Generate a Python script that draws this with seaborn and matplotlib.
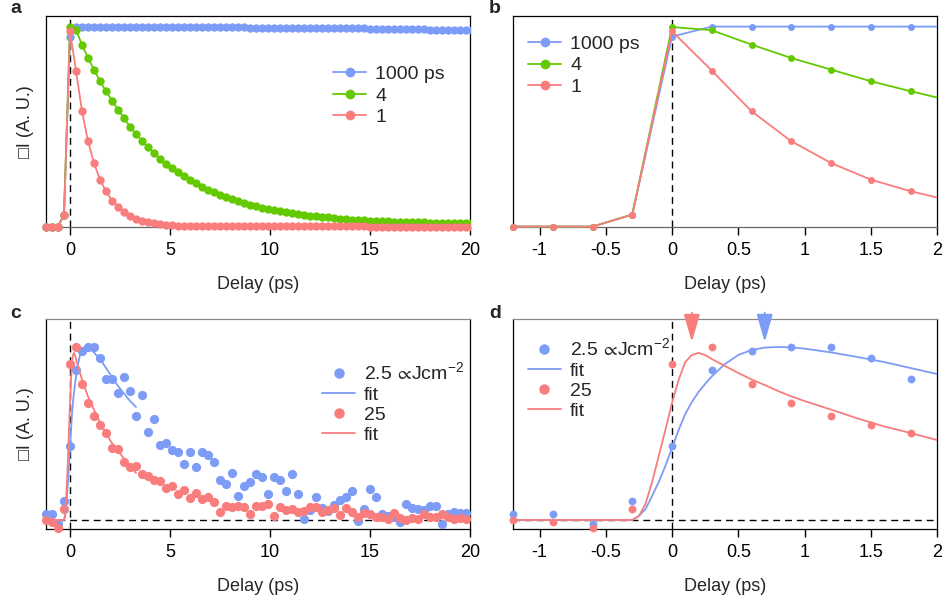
import matplotlib
matplotlib.use("Agg")
import matplotlib.pyplot as plt
from matplotlib.lines import Line2D
from matplotlib.patches import Rectangle
import seaborn as sns

# ---------------------------------------------------------------- data
# pump-probe delay grid (ps) for panels a/b
delay_ab = [-1.2, -0.9, -0.6, -0.3, 0.0, 0.3, 0.6, 0.9, 1.2, 1.5, 1.8, 2.1, 2.4, 2.7,
            3.0, 3.3, 3.6, 3.9, 4.2, 4.5, 4.8, 5.1, 5.4, 5.7, 6.0, 6.3, 6.6, 6.9,
            7.2, 7.5, 7.8, 8.1, 8.4, 8.7, 9.0, 9.3, 9.6, 9.9, 10.2, 10.5, 10.8, 11.1,
            11.4, 11.7, 12.0, 12.3, 12.6, 12.9, 13.2, 13.5, 13.8, 14.1, 14.4, 14.7,
            15.0, 15.3, 15.6, 15.9, 16.2, 16.5, 16.8, 17.1, 17.4, 17.7, 18.0, 18.3,
            18.6, 18.9, 19.2, 19.5, 19.8, 20.1]

# normalised transients for lifetimes 1000 ps, 4 ps and 1 ps
life_1000 = [0.0, 0.0, 0.0, 0.06, 0.95, 1.0,
             1.0, 1.0, 1.0, 1.0, 1.0, 1.0, 1.0, 1.0,
             0.998, 0.998, 0.998, 0.998, 0.998, 0.998, 0.998, 0.998, 0.998, 0.998,
             0.996, 0.996, 0.996, 0.996, 0.996, 0.996, 0.996, 0.996, 0.996, 0.996,
             0.994, 0.994, 0.994, 0.994, 0.994, 0.994, 0.994, 0.994, 0.994, 0.994,
             0.991, 0.991, 0.991, 0.991, 0.991, 0.991, 0.991, 0.991, 0.991, 0.991,
             0.988, 0.988, 0.988, 0.988, 0.988, 0.988, 0.988, 0.988, 0.988, 0.988,
             0.985, 0.985, 0.985, 0.985, 0.985, 0.985, 0.985, 0.985]
life_4 = [0.0, 0.0, 0.0, 0.06, 0.998, 0.982, 0.91, 0.843, 0.785, 0.727, 0.677, 0.63,
          0.585, 0.542, 0.500, 0.463, 0.428, 0.397, 0.368, 0.340, 0.315, 0.293, 0.272,
          0.252, 0.233, 0.216, 0.199, 0.184, 0.171, 0.159, 0.147, 0.137, 0.127, 0.118,
          0.110, 0.102, 0.095, 0.089, 0.083, 0.078, 0.073, 0.068, 0.063, 0.059, 0.055,
          0.052, 0.049, 0.046, 0.043, 0.040, 0.037, 0.035, 0.033, 0.031, 0.029, 0.028,
          0.027, 0.026, 0.025, 0.024, 0.023, 0.022, 0.021, 0.021, 0.020, 0.020, 0.019,
          0.019, 0.018, 0.018, 0.018, 0.017]
life_1 = [0.0, 0.0, 0.0, 0.06, 0.977, 0.78, 0.577, 0.427, 0.318, 0.235, 0.177, 0.13,
          0.098, 0.075, 0.055, 0.04, 0.03, 0.022, 0.016, 0.012, 0.009, 0.007, 0.005,
          0.004, 0.003, 0.003, 0.002, 0.002,
          0.002, 0.002, 0.002, 0.002, 0.002, 0.002, 0.002, 0.002, 0.002, 0.002,
          0.001, 0.001, 0.001, 0.001, 0.001, 0.001, 0.001, 0.001, 0.001, 0.001,
          0.001, 0.001, 0.001, 0.001, 0.001, 0.001,
          0.0, 0.0, 0.0, 0.0, 0.0, 0.0, 0.0, 0.0, 0.0, 0.0, 0.0, 0.0, 0.0, 0.0,
          0.0, 0.0, 0.0, 0.0]
ab_labels = ["1000 ps", "4", "1"]

# measured transients for two fluences (panels c/d)
delay_cd = [-1.2, -0.9, -0.6, -0.3, 0.0, 0.3, 0.6, 0.9, 1.2, 1.5, 1.8, 2.1, 2.4, 2.7,
            3.0, 3.3, 3.6, 3.9, 4.2, 4.5, 4.8, 5.1, 5.4, 5.7, 6.0, 6.3, 6.6, 6.9,
            7.2, 7.5, 7.8, 8.1, 8.4, 8.7, 9.0, 9.3, 9.6, 9.9, 10.2, 10.5, 10.8, 11.1,
            11.4, 11.7, 12.0, 12.3, 12.6, 12.9, 13.2, 13.5, 13.8, 14.1, 14.4, 14.7,
            15.0, 15.3, 15.6, 15.9, 16.2, 16.5, 16.8, 17.1, 17.4, 17.7, 18.0, 18.3,
            18.6, 18.9, 19.2, 19.5, 19.8]
fluence_2p5 = [0.032, 0.032, -0.022, 0.097, 0.37, 0.748, 0.843, 0.865, 0.866, 0.81,
               0.707, 0.707, 0.635, 0.713, 0.643, 0.52, 0.623, 0.44, 0.507, 0.373,
               0.383, 0.348, 0.34, 0.28, 0.338, 0.263, 0.34, 0.327, 0.29, 0.202,
               0.178, 0.233, 0.118, 0.168, 0.188, 0.232, 0.213, 0.128, 0.213, 0.198,
               0.143, 0.232, 0.13, 0.007, 0.05, 0.116, 0.058, 0.045, 0.075, 0.10,
               0.113, 0.147, -0.005, 0.053, 0.155, 0.113, 0.03, 0.02, 0.017, -0.008,
               0.08, 0.062, 0.057, 0.05, 0.07, 0.07, -0.02, 0.028, 0.042, 0.037, 0.037]
fluence_25 = [0.002, -0.01, -0.04, 0.055, 0.782, 0.865, 0.682, 0.585, 0.518, 0.473,
              0.435, 0.36, 0.355, 0.29, 0.263, 0.268, 0.23, 0.22, 0.2, 0.193,
              0.16, 0.168, 0.13, 0.152, 0.11, 0.135, 0.105, 0.115, 0.09, 0.04,
              0.072, 0.063, 0.068, 0.067, 0.032, 0.072, 0.072, 0.082, 0.022, 0.063,
              0.052, 0.057, 0.04, 0.047, 0.065, 0.065, 0.04, 0.052, 0.062, 0.025,
              0.058, 0.042, 0.017, 0.037, 0.028, 0.013, 0.017, 0.003, 0.037, 0.008,
              0.0, 0.012, 0.005, 0.028, 0.013, 0.013, 0.028, 0.013, 0.005, 0.008, 0.003]

# fitted curves
delay_fit = [-1.2, -0.9, -0.6, -0.4, -0.3, -0.25, -0.2, -0.15, -0.1, -0.05, 0.0, 0.05,
             0.1, 0.15, 0.2, 0.25, 0.3, 0.4, 0.5, 0.6, 0.7, 0.8, 0.9, 1.0, 1.2, 1.4,
             1.6, 1.8, 2.0, 2.2, 2.4, 2.6, 2.8, 3.0, 3.3]
fit_2p5 = [0.0, 0.0, 0.0, 0.0, 0.0, 0.02, 0.055, 0.12, 0.19, 0.27, 0.36, 0.45,
           0.53, 0.59, 0.64, 0.68, 0.718, 0.78, 0.825, 0.85, 0.862, 0.865, 0.863, 0.857,
           0.838, 0.815, 0.79, 0.76, 0.73, 0.70, 0.67, 0.645, 0.62, 0.595, 0.565]
fit_25 = [0.0, 0.0, 0.0, 0.0, 0.0, 0.02, 0.08, 0.19, 0.32, 0.45, 0.585, 0.70,
          0.79, 0.825, 0.835, 0.825, 0.805, 0.77, 0.735, 0.703, 0.675, 0.645, 0.618,
          0.595, 0.552, 0.508, 0.468, 0.435, 0.40, 0.37, 0.345, 0.32, 0.295, 0.27, 0.235]
cd_labels = [r"2.5 $\!\propto\!$Jcm$^{-2}$", "fit", "25", "fit"]

# delays of the peak positions marked by arrows
peak_25 = 0.15
peak_2p5 = 0.70

# ---------------------------------------------------------------- style
sns.set_theme(style="white")
plt.rcParams["font.family"] = ["Liberation Sans", "DejaVu Sans"]
plt.rcParams["mathtext.fontset"] = "custom"
plt.rcParams["mathtext.rm"] = "Liberation Sans"
plt.rcParams["mathtext.default"] = "regular"
plt.rcParams["mathtext.fallback"] = "stixsans"

BLUE = "#7c9cf6"
GREEN = "#63c900"
RED = "#f97d7d"
FS = 13
LFS = 14

fig = plt.figure(figsize=(9.46, 6.05), dpi=100)
W, H = 946, 605


def make_axes(x0, y0, x1, y1):
    return fig.add_axes([x0 / W, 1 - y1 / H, (x1 - x0) / W, (y1 - y0) / H])


ax_a = make_axes(46, 16, 470, 227)
ax_b = make_axes(513, 16, 937, 227)
ax_c = make_axes(46, 319, 470, 529)
ax_d = make_axes(513, 319, 937, 529)


def soft_clip(ax, artists):
    rect = Rectangle((-0.03, -0.08), 1.03, 1.25, transform=ax.transAxes,
                     facecolor="none", edgecolor="none")
    for art in artists:
        art.set_clip_path(rect)


def style_axes(ax, xlim, xticks, ylim, top_color, bottom_color):
    ax.set_xlim(*xlim)
    ax.set_ylim(*ylim)
    ax.set_xticks(xticks)
    ax.set_xticklabels([f"{t:g}" for t in xticks])
    ax.set_yticks([])
    ax.tick_params(axis="x", bottom=True, direction="out", length=6, width=1,
                   pad=5, labelsize=FS, colors="black")
    for side in ("left", "right"):
        ax.spines[side].set_color("black")
        ax.spines[side].set_linewidth(0.9)
    ax.spines["top"].set_color(top_color)
    ax.spines["top"].set_linewidth(0.9)
    ax.spines["bottom"].set_color(bottom_color)
    ax.spines["bottom"].set_linewidth(0.9)
    ax.set_xlabel("Delay (ps)", fontsize=FS, labelpad=12)
    ax.axvline(0, color="black", lw=1, ls=(0, (5, 3.5)), zorder=1)


# ---------------------------------------------------------------- panels a, b
ab_series = [life_1000, life_4, life_1]
ab_colors = [BLUE, GREEN, RED]
for ax, msz in ((ax_a, 6.0), (ax_b, 5.0)):
    start = len(ax.lines)
    for vals, col in zip(ab_series, ab_colors):
        sns.lineplot(x=delay_ab, y=vals, ax=ax, color=col, marker="o",
                     markersize=msz, markeredgewidth=0, linewidth=1.3,
                     legend=False, zorder=3)
    soft_clip(ax, ax.lines[start:])

style_axes(ax_a, (-1.2, 20), [0, 5, 10, 15, 20], (-0.002, 1.053), "black", "#666666")
style_axes(ax_b, (-1.2, 2), [-1, -0.5, 0, 0.5, 1, 1.5, 2], (-0.002, 1.053), "black", "#666666")
ax_a.set_ylabel("\u25a1I (A. U.)", fontsize=FS, labelpad=9)

ab_handles = [Line2D([], [], color=c, marker="o", markersize=7, markeredgewidth=0, lw=1.3)
              for c in ab_colors]
legend_kw = dict(loc="upper left", frameon=False, fontsize=LFS, borderpad=0,
                 borderaxespad=0, handlelength=1.7, handletextpad=0.46,
                 labelspacing=0.2, numpoints=1)
ax_a.legend(ab_handles, ab_labels, bbox_to_anchor=(0.677, 0.765), **legend_kw)
ax_b.legend(ab_handles, ab_labels, bbox_to_anchor=(0.036, 0.909), **legend_kw)

# ---------------------------------------------------------------- panels c, d
for ax, msize in ((ax_c, 44), (ax_d, 32)):
    ax.axhline(0, color="black", lw=1, ls=(0, (5, 3.5)), zorder=1)
    col_start = len(ax.collections)
    sns.scatterplot(x=delay_cd, y=fluence_2p5, ax=ax, color=BLUE, s=msize,
                    linewidth=0, legend=False, zorder=3)
    sns.lineplot(x=delay_fit, y=fit_2p5, ax=ax, color=BLUE, linewidth=1.3,
                 legend=False, zorder=4)
    sns.scatterplot(x=delay_cd, y=fluence_25, ax=ax, color=RED, s=msize,
                    linewidth=0, legend=False, zorder=3)
    sns.lineplot(x=delay_fit, y=fit_25, ax=ax, color=RED, linewidth=1.3,
                 legend=False, zorder=4)
    soft_clip(ax, ax.collections[col_start:])

style_axes(ax_c, (-1.2, 20), [0, 5, 10, 15, 20], (-0.045, 1.005), "#888888", "black")
style_axes(ax_d, (-1.2, 2), [-1, -0.5, 0, 0.5, 1, 1.5, 2], (-0.045, 1.005), "#888888", "black")
ax_c.set_ylabel("\u25a1I (A. U.)", fontsize=FS, labelpad=9)

cd_handles = [
    Line2D([], [], color=BLUE, marker="o", markersize=7.5, markeredgewidth=0, ls="none"),
    Line2D([], [], color=BLUE, lw=1.3),
    Line2D([], [], color=RED, marker="o", markersize=7.5, markeredgewidth=0, ls="none"),
    Line2D([], [], color=RED, lw=1.3),
]
cd_kw = dict(legend_kw, labelspacing=0.13)
ax_c.legend(cd_handles, cd_labels, bbox_to_anchor=(0.651, 0.797), **cd_kw)
ax_d.legend(cd_handles, cd_labels, bbox_to_anchor=(0.035, 0.911), **cd_kw)

# arrows marking the rise-time maxima
for x_peak, col in ((peak_25, RED), (peak_2p5, BLUE)):
    ax_d.annotate("", xy=(x_peak, 0.89), xytext=(x_peak, 1.035),
                  arrowprops=dict(arrowstyle="-|>,head_width=0.38,head_length=1.3",
                                  color=col, lw=1.5, shrinkA=0, shrinkB=0),
                  fontsize=FS, annotation_clip=False)

# panel letters
for letter, (px, py) in zip("abcd", [(10, 13), (489, 13), (10, 318), (489, 318)]):
    fig.text(px / W, 1 - py / H, letter, fontsize=14, fontweight="bold",
             ha="left", va="baseline")

fig.savefig("out.png", dpi=100)
